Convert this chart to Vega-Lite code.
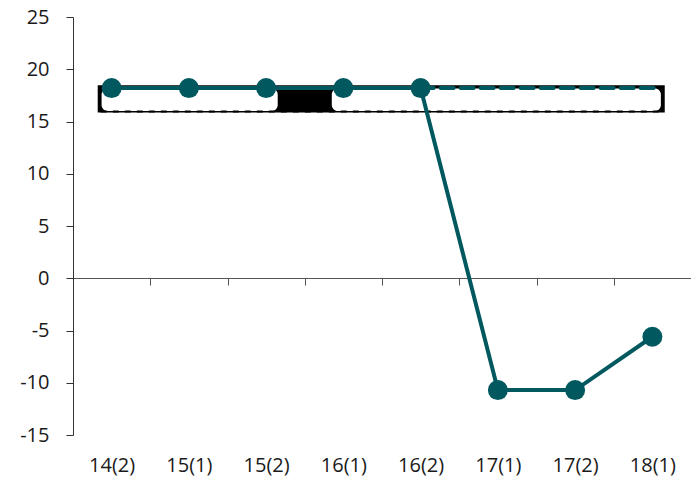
{
  "$schema": "https://vega.github.io/schema/vega-lite/v6.json",
  "autosize": "none",
  "width": 618,
  "height": 418,
  "padding": {"left": 73, "top": 17, "right": 0, "bottom": 51},
  "background": "white",
  "config": {
    "view": {"stroke": null},
    "font": "Open Sans",
    "axis": {"labelFont": "Open Sans", "labelColor": "#1a1a1a", "grid": false, "title": null}
  },
  "datasets": {
    "series": [
      {"period": "14(2)", "value": 18.2},
      {"period": "15(1)", "value": 18.2},
      {"period": "15(2)", "value": 18.2},
      {"period": "16(1)", "value": 18.2},
      {"period": "16(2)", "value": 18.2},
      {"period": "17(1)", "value": -10.7},
      {"period": "17(2)", "value": -10.7},
      {"period": "18(1)", "value": -5.6}
    ],
    "blackBox": [{"x": 0.32, "x2": 7.66, "y": 15.85, "y2": 18.47}],
    "whiteBoxes": [
      {"x": 0.37, "x2": 2.65, "y": 16.0, "y2": 18.15},
      {"x": 3.35, "x2": 7.61, "y": 16.0, "y2": 18.15}
    ],
    "dashBlack": [{"x": 0.36, "x2": 7.6, "y": 15.95}],
    "dashTeal": [{"x": 4.5, "x2": 7.58, "y": 18.2}]
  },
  "resolve": {"scale": {"x": "independent"}},
  "layer": [
    {
      "layer": [
        {
          "data": {"name": "blackBox"},
          "mark": {"type": "rect", "color": "black"},
          "encoding": {
            "x": {"field": "x", "type": "quantitative", "scale": {"domain": [0, 8], "nice": false, "zero": false}, "axis": null},
            "x2": {"field": "x2"},
            "y": {"field": "y", "type": "quantitative"},
            "y2": {"field": "y2"}
          }
        },
        {
          "data": {"name": "whiteBoxes"},
          "mark": {"type": "rect", "color": "white", "cornerRadius": 6},
          "encoding": {
            "x": {"field": "x", "type": "quantitative"},
            "x2": {"field": "x2"},
            "y": {"field": "y", "type": "quantitative"},
            "y2": {"field": "y2"}
          }
        },
        {
          "data": {"name": "dashBlack"},
          "mark": {"type": "rule", "color": "black", "strokeWidth": 2, "strokeDash": [6, 6]},
          "encoding": {
            "x": {"field": "x", "type": "quantitative"},
            "x2": {"field": "x2"},
            "y": {"field": "y", "type": "quantitative"}
          }
        },
        {
          "data": {"name": "dashTeal"},
          "mark": {"type": "rule", "color": "#01595f", "strokeWidth": 4, "strokeDash": [13, 7], "strokeCap": "round"},
          "encoding": {
            "x": {"field": "x", "type": "quantitative"},
            "x2": {"field": "x2"},
            "y": {"field": "y", "type": "quantitative"}
          }
        }
      ]
    },
    {
      "data": {"name": "series"},
      "encoding": {
        "x": {
          "field": "period",
          "type": "ordinal",
          "sort": null,
          "scale": {"type": "band", "paddingInner": 0, "paddingOuter": 0},
          "axis": {
            "orient": "bottom",
            "offset": -157,
            "tickBand": "extent",
            "tickSize": 7,
            "tickColor": "#555555",
            "domainColor": "#555555",
            "labelPadding": 170,
            "labelFontSize": 20,
            "labelAngle": 0
          }
        },
        "y": {
          "field": "value",
          "type": "quantitative",
          "scale": {"domain": [-15, 25], "nice": false, "zero": false},
          "axis": {
            "values": [-15, -10, -5, 0, 5, 10, 15, 20, 25],
            "labelExpr": "replace(datum.label, '\u2212', '-')",
            "tickSize": 7,
            "tickColor": "#333333",
            "domainColor": "#333333",
            "labelPadding": 17,
            "labelFontSize": 20
          }
        }
      },
      "layer": [
        {"mark": {"type": "line", "color": "#01595f", "strokeWidth": 4}},
        {"mark": {"type": "point", "filled": true, "color": "#01595f", "opacity": 1, "size": 400}}
      ]
    }
  ]
}
